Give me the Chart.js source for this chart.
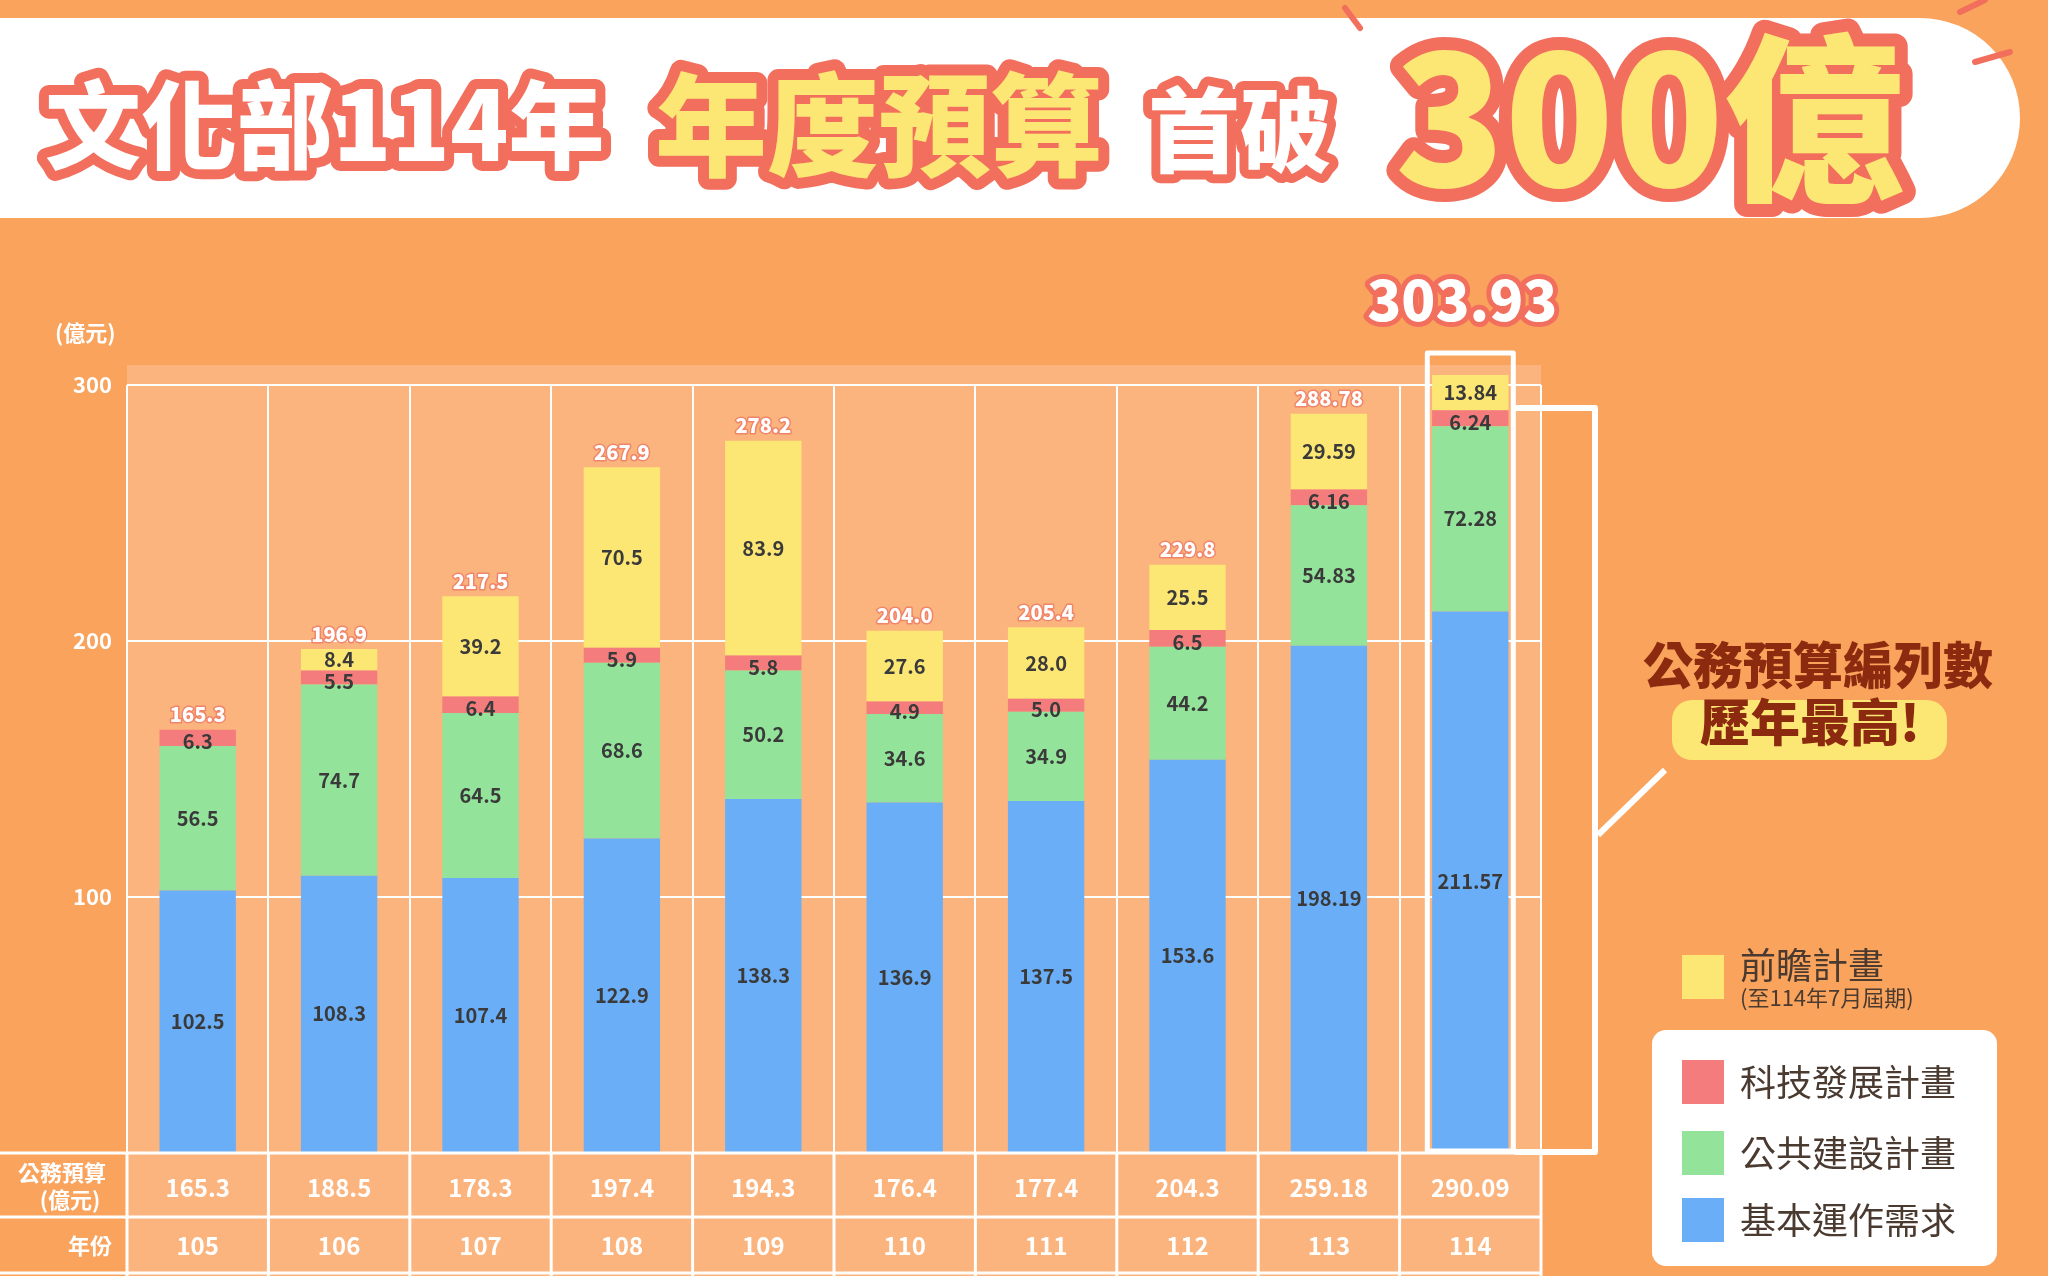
<!DOCTYPE html>
<html><head><meta charset="utf-8">
<script src="https://cdn.jsdelivr.net/npm/chart.js@4/dist/chart.umd.min.js"></script>
<style>html,body{margin:0;padding:0;background:#F9A35C;}canvas{display:block;}</style>
</head><body>
<canvas id="c" width="2048" height="1276"></canvas>
<script>
const years = ['105','106','107','108','109','110','111','112','113','114'];
const basicOps = [102.5,108.3,107.4,122.9,138.3,136.9,137.5,153.6,198.19,211.57];
const publicWorks = [56.5,74.7,64.5,68.6,50.2,34.6,34.9,44.2,54.83,72.28];
const techDev = [6.3,5.5,6.4,5.9,5.8,4.9,5.0,6.5,6.16,6.24];
const forward = [0,8.4,39.2,70.5,83.9,27.6,28.0,25.5,29.59,13.84];
const totalLabels = ['165.3','196.9','217.5','267.9','278.2','204.0','205.4','229.8','288.78','303.93'];
const budgetRow = ['165.3','188.5','178.3','197.4','194.3','176.4','177.4','204.3','259.18','290.09'];
const yTicks = [100,200,300];

const FONT = '"Noto Sans CJK TC", "Noto Sans", sans-serif';
const fmt = (v, i) => (i >= 8 ? v.toFixed(2) : v.toFixed(1));

function outlined(ctx, text, x, y, size, fill, stroke, lw, align) {
    ctx.font = '900 ' + size + 'px ' + FONT;
    ctx.textAlign = align || 'left';
    ctx.textBaseline = 'middle';
    ctx.lineJoin = 'round';
    ctx.strokeStyle = stroke; ctx.lineWidth = lw;
    ctx.strokeText(text, x, y);
    ctx.fillStyle = fill;
    ctx.fillText(text, x, y);
}

const decor = {
    id: 'decor',
    beforeDraw(chart) {
        const ctx = chart.ctx, a = chart.chartArea;
        ctx.save();
        ctx.fillStyle = '#F9A35C';
        ctx.fillRect(0, 0, 2048, 1276);
        ctx.fillStyle = '#FBB47D';
        ctx.fillRect(a.left, a.top - 20, a.right - a.left, 1276 - a.top + 20);
        ctx.fillStyle = '#fff';
        ctx.beginPath();
        ctx.moveTo(0, 18); ctx.lineTo(1920, 18);
        ctx.arc(1920, 118, 100, -Math.PI / 2, Math.PI / 2);
        ctx.lineTo(0, 218); ctx.closePath(); ctx.fill();
        ctx.restore();
    },
    afterDatasetsDraw(chart) {
        const ctx = chart.ctx, a = chart.chartArea;
        const xs = chart.scales.x, ys = chart.scales.y;
        ctx.save();
        ctx.fillStyle = '#fff'; ctx.font = 'bold 22px ' + FONT;
        ctx.textAlign = 'right'; ctx.textBaseline = 'middle';
        yTicks.forEach(t => ctx.fillText(String(t), 112, ys.getPixelForValue(t)));
        ctx.textAlign = 'left';
        ctx.fillText('(億元)', 55, 333);

        ctx.textAlign = 'center';
        ctx.font = 'bold 20px ' + FONT;
        ctx.fillStyle = '#3a3a3a';
        chart.data.datasets.forEach((ds, di) => {
            chart.getDatasetMeta(di).data.forEach((bar, i) => {
                const v = ds.data[i];
                if (!v) return;
                let y = (bar.y + bar.base) / 2;
                if (di === 2) y += 4;
                ctx.fillText(fmt(v, i), bar.x, y);
            });
        });
        const top = chart.getDatasetMeta(3).data;
        const red = chart.getDatasetMeta(2).data;
        top.forEach((bar, i) => {
            const yTop = forward[i] ? bar.y : red[i].y;
            if (i === 9) return;
            outlined(ctx, totalLabels[i], bar.x, yTop - 15, 20, '#fff', '#F0856A', 3, 'center');
        });
        const b9 = top[9];
        ctx.strokeStyle = '#fff'; ctx.lineWidth = 5;
        ctx.strokeRect(b9.x - 43, b9.y - 22, 86, a.bottom - b9.y + 20);
        outlined(ctx, totalLabels[9], b9.x - 8, 300, 56, '#fff', '#F26F5E', 10, 'center');

        ctx.strokeStyle = '#fff'; ctx.lineWidth = 6;
        ctx.beginPath();
        ctx.moveTo(1515, 408); ctx.lineTo(1595, 408); ctx.lineTo(1595, 1152); ctx.lineTo(1515, 1152);
        ctx.moveTo(1598, 835); ctx.lineTo(1665, 770);
        ctx.stroke();
        ctx.fillStyle = '#FCE774';
        ctx.beginPath(); ctx.roundRect(1672, 700, 275, 60, 20); ctx.fill();
        ctx.fillStyle = '#8B2A0E'; ctx.font = '900 50px ' + FONT; ctx.textAlign = 'center';
        ctx.fillText('公務預算編列數', 1818, 665);
        ctx.fillText('歷年最高!', 1810, 722);

        ctx.strokeStyle = '#fff'; ctx.lineWidth = 3;
        [a.bottom, 1217, 1273].forEach(y => {
            ctx.beginPath(); ctx.moveTo(0, y); ctx.lineTo(a.right, y); ctx.stroke();
        });
        for (let i = 0; i <= years.length; i++) {
            const x = a.left + (a.right - a.left) * i / years.length;
            ctx.beginPath(); ctx.moveTo(x, a.bottom); ctx.lineTo(x, 1276); ctx.stroke();
        }
        ctx.fillStyle = '#fff'; ctx.font = 'bold 24px ' + FONT;
        years.forEach((y, i) => {
            const x = xs.getPixelForValue(i);
            ctx.fillText(budgetRow[i], x, 1188);
            ctx.fillText(y, x, 1246);
        });
        ctx.font = 'bold 22px ' + FONT;
        ctx.fillText('公務預算', 62, 1173);
        ctx.fillText('(億元)', 70, 1200);
        ctx.fillText('年份', 90, 1246);

        ctx.fillStyle = '#FCE774'; ctx.fillRect(1682, 955, 42, 44);
        ctx.fillStyle = '#4a3a30'; ctx.textAlign = 'left';
        ctx.font = '36px ' + FONT; ctx.fillText('前瞻計畫', 1740, 965);
        ctx.font = '22px ' + FONT; ctx.fillText('(至114年7月屆期)', 1740, 998);
        ctx.fillStyle = '#fff';
        ctx.beginPath(); ctx.roundRect(1652, 1030, 345, 236, 14); ctx.fill();
        [['#F47C7C', '科技發展計畫', 1082], ['#93E39A', '公共建設計畫', 1153], ['#6AAEF7', '基本運作需求', 1220]].forEach(([c, t, y]) => {
            ctx.fillStyle = c; ctx.fillRect(1682, y - 22, 42, 44);
            ctx.fillStyle = '#4a3a30'; ctx.font = '36px ' + FONT;
            ctx.fillText(t, 1740, y);
        });

        outlined(ctx, '文化部114年', 45, 125, 96, '#fff', '#F26F5E', 20);
        outlined(ctx, '年度預算', 655, 125, 112, '#FCE774', '#F26F5E', 22);
        outlined(ctx, '首破', 1148, 130, 92, '#fff', '#F26F5E', 18);
        outlined(ctx, '300億', 1395, 118, 180, '#FCE774', '#F26F5E', 26);
        ctx.strokeStyle = '#F26F5E'; ctx.lineWidth = 6; ctx.lineCap = 'round';
        ctx.beginPath();
        ctx.moveTo(1345, 8); ctx.lineTo(1360, 28);
        ctx.moveTo(1960, 12); ctx.lineTo(1985, 0);
        ctx.moveTo(1975, 62); ctx.lineTo(2010, 52);
        ctx.stroke();
        ctx.restore();
    }
};

new Chart(document.getElementById('c'), {
    type: 'bar',
    data: {
        labels: years,
        datasets: [
            { label: '基本運作需求', data: basicOps, backgroundColor: '#6AAEF7' },
            { label: '公共建設計畫', data: publicWorks, backgroundColor: '#93E39A' },
            { label: '科技發展計畫', data: techDev, backgroundColor: '#F47C7C' },
            { label: '前瞻計畫', data: forward, backgroundColor: '#FCE774' }
        ]
    },
    options: {
        responsive: false, animation: false, devicePixelRatio: 1,
        layout: { padding: { left: 127, right: 507, top: 385, bottom: 123 } },
        datasets: { bar: { barPercentage: 0.54, categoryPercentage: 1, borderWidth: 0, clip: false } },
        plugins: { legend: { display: false }, tooltip: { enabled: false } },
        scales: {
            x: { stacked: true, offset: true,
                 grid: { color: '#fff', lineWidth: 2, offset: true, drawTicks: false },
                 border: { display: false }, ticks: { display: false } },
            y: { stacked: true, min: 0, max: 300,
                 afterBuildTicks: s => { s.ticks = [0, 100, 200, 300].map(v => ({ value: v })); },
                 grid: { color: '#fff', lineWidth: 2, drawTicks: false },
                 border: { display: false }, ticks: { display: false } }
        }
    },
    plugins: [decor]
});
</script>
</body></html>
